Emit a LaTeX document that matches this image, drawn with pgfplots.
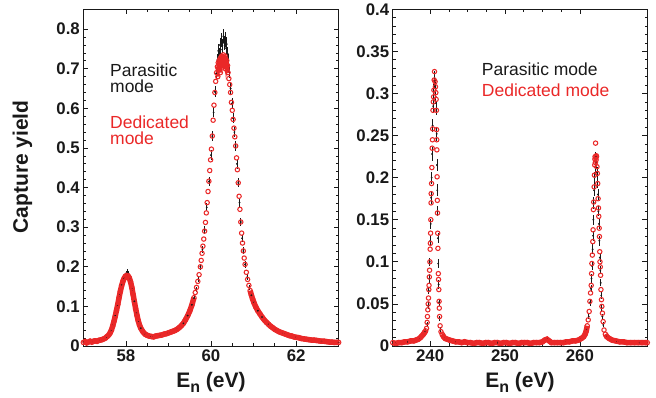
\documentclass[border=0pt]{standalone}
\usepackage{fontspec}
\setmainfont{Liberation Sans}
\usepackage{pgfplots}
\pgfplotsset{compat=1.18}
\usepackage{pgfplotstable}
\definecolor{myred}{RGB}{234,40,40}
\definecolor{myblk}{RGB}{25,25,25}

\pgfplotstableread{
x y
57.00 0.009
57.04 0.011
57.08 0.008
57.12 0.010
57.16 0.012
57.20 0.010
57.24 0.012
57.28 0.013
57.32 0.012
57.36 0.014
57.40 0.015
57.44 0.016
57.48 0.018
57.52 0.020
57.56 0.024
57.60 0.028
57.63 0.033
57.66 0.040
57.69 0.050
57.72 0.062
57.75 0.075
57.78 0.090
57.81 0.105
57.84 0.122
57.87 0.138
57.90 0.152
57.93 0.163
57.96 0.171
57.99 0.176
58.02 0.178
58.05 0.177
58.08 0.172
58.11 0.162
58.14 0.148
58.17 0.130
58.20 0.112
58.23 0.094
58.26 0.078
58.29 0.064
58.32 0.053
58.35 0.045
58.40 0.036
58.45 0.030
58.50 0.027
58.55 0.025
58.60 0.024
58.65 0.023
58.70 0.025
58.75 0.026
58.80 0.027
58.85 0.028
58.90 0.030
58.95 0.031
59.00 0.033
59.05 0.035
59.10 0.037
59.15 0.039
59.20 0.042
59.25 0.046
59.30 0.051
59.35 0.057
59.40 0.066
59.45 0.076
59.50 0.088
59.55 0.103
59.60 0.122
59.63 0.135
59.66 0.148
59.69 0.163
59.72 0.180
59.75 0.200
59.77 0.216
59.79 0.234
59.81 0.252
59.83 0.270
59.85 0.290
59.87 0.312
59.89 0.336
59.91 0.362
59.93 0.390
59.95 0.416
59.97 0.443
59.99 0.470
60.01 0.497
60.03 0.530
60.05 0.570
60.07 0.608
60.09 0.640
60.11 0.668
60.13 0.690
60.15 0.705
60.16 0.680
60.17 0.715
60.18 0.698
60.19 0.720
60.20 0.708
60.21 0.725
60.22 0.690
60.23 0.728
60.24 0.712
60.25 0.732
60.26 0.702
60.27 0.730
60.28 0.718
60.29 0.735
60.30 0.706
60.31 0.728
60.32 0.716
60.33 0.732
60.34 0.700
60.35 0.724
60.36 0.712
60.37 0.720
60.38 0.695
60.39 0.708
60.40 0.690
60.42 0.675
60.44 0.660
60.46 0.640
60.48 0.615
60.50 0.595
60.52 0.572
60.54 0.550
60.56 0.528
60.58 0.505
60.60 0.475
60.62 0.445
60.64 0.412
60.66 0.378
60.68 0.345
60.70 0.313
60.72 0.285
60.74 0.260
60.76 0.240
60.78 0.222
60.80 0.206
60.83 0.186
60.86 0.168
60.89 0.153
60.92 0.140
60.95 0.128
60.98 0.118
61.01 0.109
61.05 0.099
61.10 0.089
61.15 0.081
61.20 0.073
61.25 0.066
61.30 0.060
61.35 0.055
61.40 0.050
61.45 0.046
61.50 0.042
61.55 0.039
61.60 0.036
61.65 0.034
61.70 0.032
61.75 0.030
61.80 0.028
61.85 0.026
61.90 0.025
61.95 0.023
62.00 0.022
62.06 0.021
62.12 0.019
62.18 0.018
62.24 0.017
62.30 0.016
62.36 0.015
62.42 0.015
62.48 0.014
62.54 0.013
62.60 0.012
62.66 0.012
62.72 0.011
62.78 0.010
62.84 0.010
62.90 0.009
62.96 0.009
63.00 0.009
}\Lred

\pgfplotstableread{
x y e
57.00 0.010 0.003
57.20 0.011 0.003
57.40 0.015 0.003
57.55 0.023 0.004
57.65 0.038 0.004
57.70 0.055 0.005
57.75 0.078 0.005
57.80 0.101 0.006
57.85 0.128 0.006
57.90 0.155 0.007
57.95 0.172 0.007
58.00 0.183 0.007
58.03 0.187 0.007
58.06 0.182 0.007
58.10 0.168 0.007
58.15 0.143 0.006
58.20 0.113 0.006
58.25 0.083 0.005
58.30 0.060 0.005
58.35 0.045 0.004
58.45 0.031 0.004
58.60 0.024 0.003
58.80 0.027 0.003
59.00 0.033 0.003
59.20 0.042 0.004
59.35 0.057 0.004
59.45 0.077 0.005
59.55 0.104 0.006
59.60 0.121 0.006
59.65 0.143 0.007
59.70 0.168 0.007
59.75 0.200 0.008
59.80 0.243 0.009
59.85 0.292 0.010
59.90 0.350 0.010
59.95 0.415 0.011
60.00 0.482 0.012
60.03 0.530 0.012
60.06 0.590 0.013
60.09 0.642 0.014
60.12 0.688 0.015
60.15 0.722 0.016
60.17 0.745 0.017
60.19 0.735 0.017
60.21 0.760 0.017
60.23 0.748 0.017
60.25 0.772 0.018
60.27 0.758 0.018
60.29 0.782 0.018
60.31 0.765 0.018
60.33 0.774 0.018
60.35 0.752 0.017
60.37 0.762 0.017
60.39 0.738 0.017
60.41 0.722 0.016
60.43 0.692 0.016
60.46 0.650 0.015
60.49 0.612 0.014
60.52 0.575 0.013
60.55 0.540 0.013
60.58 0.505 0.012
60.61 0.460 0.012
60.64 0.412 0.011
60.67 0.362 0.010
60.70 0.313 0.010
60.73 0.272 0.009
60.76 0.240 0.009
60.80 0.206 0.008
60.85 0.174 0.007
60.90 0.148 0.007
60.95 0.128 0.006
61.00 0.112 0.006
61.10 0.089 0.005
61.20 0.073 0.005
61.35 0.055 0.004
61.50 0.042 0.004
61.70 0.032 0.003
62.00 0.022 0.003
62.30 0.016 0.003
62.60 0.012 0.003
63.00 0.009 0.003
}\Lblk

\pgfplotstableread{
x y
235.0 0.004
235.4 0.003
235.8 0.004
236.2 0.004
236.6 0.005
237.0 0.005
237.4 0.006
237.8 0.006
238.1 0.007
238.4 0.008
238.7 0.010
238.9 0.012
239.1 0.014
239.25 0.016
239.40 0.018
239.52 0.021
239.60 0.028
239.64 0.035
239.69 0.043
239.74 0.050
239.78 0.057
239.82 0.067
239.85 0.072
239.89 0.082
239.92 0.090
239.97 0.100
240.00 0.115
240.03 0.122
240.06 0.134
240.09 0.150
240.12 0.170
240.14 0.181
240.19 0.193
240.23 0.212
240.27 0.235
240.31 0.245
240.34 0.258
240.38 0.280
240.42 0.290
240.46 0.296
240.50 0.304
240.54 0.316
240.58 0.326
240.66 0.314
240.71 0.308
240.76 0.301
240.80 0.293
240.84 0.280
240.86 0.257
240.88 0.245
240.90 0.233
240.93 0.201
240.96 0.173
240.98 0.158
241.01 0.134
241.04 0.116
241.09 0.086
241.12 0.079
241.16 0.067
241.19 0.053
241.22 0.045
241.26 0.035
241.33 0.024
241.45 0.017
241.60 0.014
241.80 0.011
242.00 0.009
242.30 0.008
242.60 0.007
243.00 0.006
243.40 0.005
243.80 0.005
244.2 0.004
244.6 0.005
245.0 0.004
245.4 0.004
245.8 0.003
246.2 0.004
246.6 0.004
247.0 0.003
247.4 0.004
247.8 0.004
248.2 0.003
248.6 0.004
249.0 0.004
249.4 0.003
249.8 0.004
250.2 0.004
250.6 0.003
251.0 0.004
251.4 0.004
251.8 0.003
252.2 0.004
252.6 0.004
253.0 0.004
253.4 0.003
253.8 0.004
254.2 0.004
254.6 0.004
255.0 0.005
255.3 0.007
255.6 0.008
255.9 0.006
256.2 0.004
256.6 0.004
257.0 0.004
257.4 0.004
257.8 0.004
258.2 0.005
258.6 0.005
259.0 0.006
259.4 0.006
259.8 0.007
260.2 0.009
260.5 0.011
260.7 0.014
260.85 0.018
260.98 0.024
261.11 0.031
261.24 0.041
261.33 0.053
261.42 0.063
261.51 0.072
261.56 0.086
261.60 0.098
261.66 0.108
261.72 0.124
261.76 0.138
261.80 0.162
261.84 0.171
261.90 0.189
261.94 0.203
261.98 0.215
262.00 0.222
262.03 0.225
262.07 0.218
262.09 0.241
262.13 0.224
262.16 0.221
262.19 0.226
262.22 0.225
262.28 0.213
262.33 0.205
262.38 0.193
262.43 0.175
262.48 0.164
262.52 0.154
262.57 0.140
262.61 0.130
262.65 0.112
262.68 0.100
262.72 0.094
262.76 0.084
262.81 0.067
262.88 0.055
262.93 0.047
263.01 0.039
263.10 0.029
263.22 0.019
263.40 0.014
263.60 0.011
263.90 0.009
264.30 0.007
264.80 0.006
265.30 0.005
265.80 0.005
266.3 0.004
266.8 0.004
267.3 0.004
267.8 0.004
268.3 0.004
268.8 0.004
269.0 0.004
}\Rred

\pgfplotstableread{
x y e
235.5 0.004 0.002
237.0 0.005 0.002
238.5 0.009 0.002
239.3 0.017 0.003
239.58 0.026 0.003
239.70 0.048 0.004
239.80 0.066 0.004
239.88 0.080 0.005
239.95 0.100 0.005
240.02 0.125 0.006
240.08 0.145 0.006
240.13 0.176 0.007
240.20 0.200 0.007
240.26 0.228 0.008
240.33 0.262 0.008
240.40 0.285 0.008
240.48 0.302 0.009
240.56 0.315 0.009
240.62 0.318 0.009
240.68 0.308 0.009
240.74 0.296 0.009
240.82 0.282 0.008
240.87 0.252 0.008
240.91 0.215 0.007
240.95 0.185 0.007
240.99 0.160 0.006
241.03 0.128 0.006
241.08 0.098 0.005
241.14 0.073 0.005
241.20 0.052 0.004
241.28 0.033 0.003
241.40 0.020 0.003
242.0 0.009 0.002
243.5 0.005 0.002
246.0 0.004 0.002
249.0 0.004 0.002
252.0 0.004 0.002
255.6 0.008 0.002
258.0 0.005 0.002
260.0 0.008 0.002
260.9 0.020 0.003
261.18 0.035 0.003
261.36 0.052 0.004
261.47 0.068 0.004
261.55 0.080 0.005
261.63 0.095 0.005
261.70 0.115 0.006
261.75 0.131 0.006
261.79 0.150 0.006
261.85 0.170 0.007
261.90 0.185 0.007
261.96 0.200 0.007
262.02 0.212 0.008
262.10 0.222 0.008
262.18 0.218 0.008
262.26 0.206 0.007
262.34 0.195 0.007
262.41 0.180 0.007
262.47 0.160 0.006
262.54 0.145 0.006
262.60 0.125 0.006
262.66 0.105 0.005
262.72 0.090 0.005
262.78 0.075 0.004
262.85 0.060 0.004
262.92 0.045 0.004
263.00 0.035 0.003
263.12 0.025 0.003
263.50 0.012 0.002
265.0 0.005 0.002
268.0 0.004 0.002
}\Rblk

\pgfplotsset{
  myaxis/.style={
    scale only axis, height=336.7pt,
    tick align=inside, major tick length=5pt, minor tick length=2.8pt,
    tick style={line width=0.7pt, myblk},
    axis line style={line width=0.9pt, myblk},
    ticklabel style={font=\fontsize{16.8}{18}\selectfont\bfseries, text=myblk},
    /pgf/number format/assume math mode=true,
    /pgf/number format/fixed,
    xlabel={E\raisebox{-5pt}{\fontsize{16}{16}\selectfont n} (eV)},
    xlabel style={font=\fontsize{21}{24}\selectfont\bfseries, text=myblk,
      at={(axis description cs:0.5,-0.1227)}, anchor=base},
  },
  blkplot/.style={myblk, only marks, mark=*, mark size=0.7pt,
    error bars/.cd, y dir=both, y explicit,
    error bar style={line width=0.6pt, myblk}, error mark=none},
  redmarks/.style={myred, only marks, mark=o, mark size=2.2pt,
    mark options={line width=1.05pt}},
  redband/.style={myred, line width=5.5pt, no marks},
}
\tikzset{
  legtext/.style={anchor=north west, inner sep=0pt, align=left,
    font=\fontsize{17.5}{16.3}\selectfont},
}

\begin{document}
\begin{tikzpicture}
\begin{axis}[myaxis, at={(0pt,0pt)}, width=255.4pt,
  xmin=57, xmax=63, ymin=0, ymax=0.85,
  xtick={58,60,62}, minor x tick num=3,
  ytick={0,0.1,0.2,0.3,0.4,0.5,0.6,0.7,0.8}, minor y tick num=4,
  ylabel={Capture yield},
  ylabel style={font=\fontsize{21}{24}\selectfont\bfseries, text=myblk,
    at={(axis description cs:-0.238,0.532)}, anchor=center},
]
\addplot[blkplot] table[x=x, y=y, y error=e] {\Lblk};
\addplot[redband, restrict x to domain=57:59.62] table[x=x, y=y] {\Lred};
\addplot[redband, line width=3.5pt, restrict x to domain=60.14:60.40] table[x=x, y=y] {\Lred};
\addplot[redband, restrict x to domain=60.92:63] table[x=x, y=y] {\Lred};
\addplot[redmarks] table[x=x, y=y] {\Lred};
\node[legtext, text=myblk] at (axis description cs:0.1045,0.839) {Parasitic\\mode};
\node[legtext, text=myred] at (axis description cs:0.1045,0.685) {Dedicated\\mode};
\end{axis}

\begin{axis}[myaxis, at={(309.4pt,0pt)}, width=254.6pt,
  xmin=235, xmax=269, ymin=0, ymax=0.4,
  xtick={240,250,260}, minor x tick num=3,
  ytick={0,0.05,0.1,0.15,0.2,0.25,0.3,0.35,0.4}, minor y tick num=4,
]
\addplot[blkplot] table[x=x, y=y, y error=e] {\Rblk};
\addplot[redband, restrict x to domain=235:239.5] table[x=x, y=y] {\Rred};
\addplot[redband, restrict x to domain=241.5:261.0] table[x=x, y=y] {\Rred};
\addplot[redband, restrict x to domain=263.3:269] table[x=x, y=y] {\Rred};
\addplot[redmarks] table[x=x, y=y] {\Rred};
\node[legtext, text=myblk] at (axis description cs:0.3496,0.841) {Parasitic mode};
\node[legtext, text=myred] at (axis description cs:0.3496,0.778) {Dedicated mode};
\end{axis}
\pgfresetboundingbox
\path[use as bounding box] (-83.3pt,-52pt) rectangle (572.7pt,346pt);
\end{tikzpicture}
\end{document}
